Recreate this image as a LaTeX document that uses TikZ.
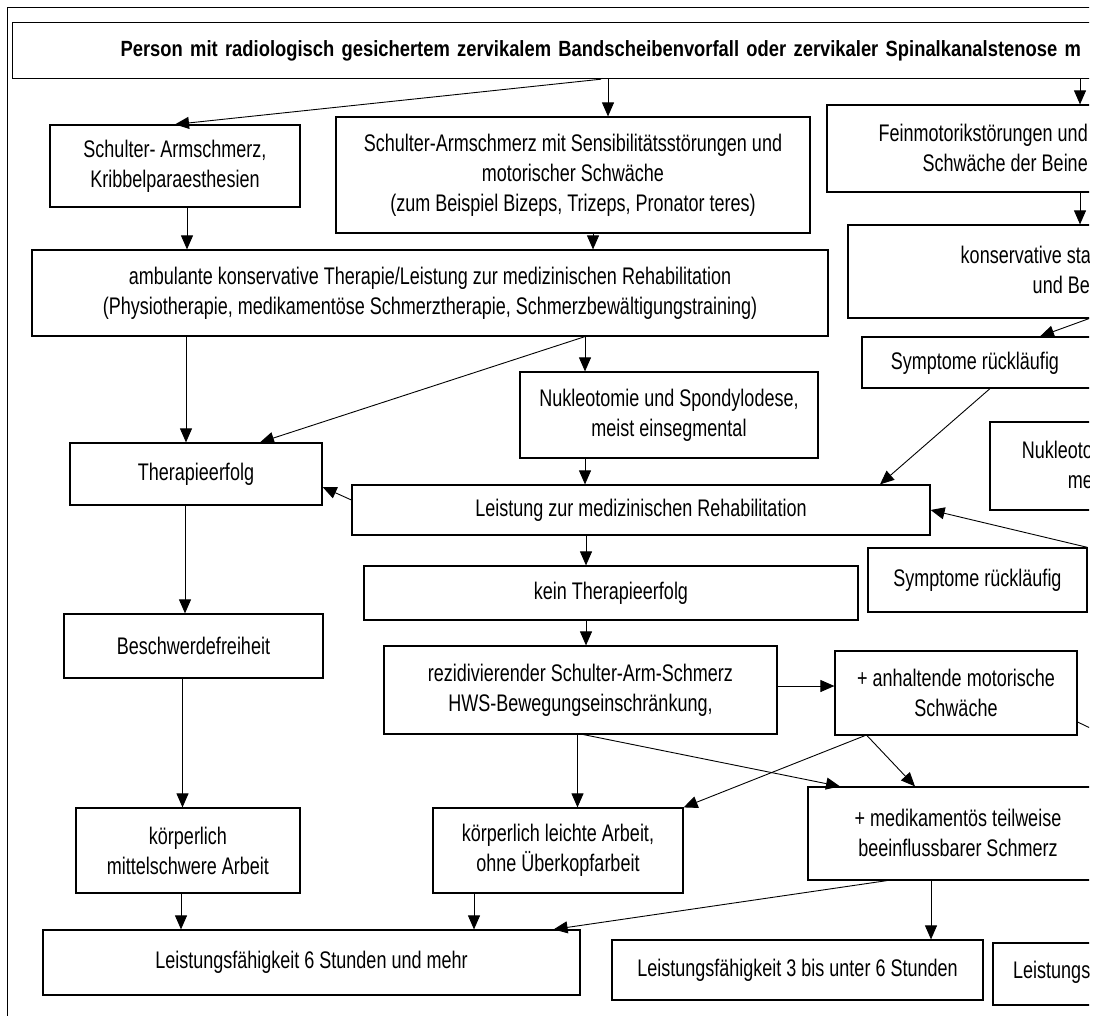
\documentclass[tikz,border=0pt]{standalone}
\usepackage{fontspec}
\setmainfont{Liberation Sans}[FakeStretch=0.75]
\newfontfamily\headfam{Liberation Sans}[FakeStretch=0.835]
\usetikzlibrary{arrows.meta}

\tikzset{
  box/.style={draw, line width=1.2pt, inner sep=0pt, align=center, font={\fontsize{24}{30}\selectfont}},
  txt/.style={inner sep=0pt, font={\fontsize{24}{30}\selectfont}},
  arr/.style={-{Triangle[length=14pt,width=12pt]}, line width=0.9pt},
}

\begin{document}
\begin{tikzpicture}[x=1pt,y=-1pt]
\useasboundingbox (0,0) rectangle (1098,1016);
\clip (0,0) rectangle (1089,1016);
\draw[line width=1pt] (7,8) rectangle (1200,1100);

\node[box, anchor=north west, minimum height=56pt, text width=1100pt, inner xsep=108pt, align=left, font={\headfam\bfseries\fontsize{22}{26}\selectfont}] (title) at (12,22) {Person mit radiologisch gesichertem zervikalem Bandscheibenvorfall oder zervikaler Spinalkanalstenose m};

\node[box, minimum width=250pt, minimum height=82pt] (schulter) at (175,166) {Schulter- Armschmerz,\\Kribbelparaesthesien};
\node[box, minimum width=474pt, minimum height=116pt] (sensib) at (573,175) {Schulter-Armschmerz mit Sensibilitätsstörungen und\\motorischer Schwäche\\(zum Beispiel Bizeps, Trizeps, Pronator teres)};
\node[box, minimum width=303pt, minimum height=87pt] (fein) at (978.5,148.5) {};
\node[txt, anchor=east, align=right] (feintext) at (1088,148) {Feinmotorikstörungen und\\Schwäche der Beine};
\node[box, minimum width=282pt, minimum height=93pt] (stat) at (989,271.5) {};
\node[txt, anchor=east, align=right] (stattext) at (1100,270) {konservative stati\\und Beh};
\node[box, minimum width=796pt, minimum height=86pt] (amb) at (430,293) {ambulante konservative Therapie/Leistung zur medizinischen Rehabilitation\\(Physiotherapie, medikamentöse Schmerztherapie, Schmerzbewältigungstraining)};
\node[box, minimum width=268pt, minimum height=51pt] (sym1) at (996,362.5) {};
\node[txt] (sym1text) at (975,363) {Symptome rückläufig};
\node[box, minimum width=298pt, minimum height=86pt] (nukl) at (669,415) {Nukleotomie und Spondylodese,\\meist einsegmental};
\node[box, minimum width=252pt, minimum height=62pt] (erfolg) at (196,474) {Therapieerfolg};
\node[box, minimum width=140pt, minimum height=88pt] (nukr) at (1060,466) {};
\node[txt, anchor=east, align=right] (nukrtext) at (1093,465) {Nukleoto\\me};
\node[box, minimum width=578pt, minimum height=50pt] (reha) at (641,510) {Leistung zur medizinischen Rehabilitation};
\node[box, minimum width=219pt, minimum height=64pt] (sym2) at (977.5,580) {Symptome rückläufig};
\node[box, minimum width=494pt, minimum height=54pt] (kein) at (611,593) {kein Therapieerfolg};
\node[box, minimum width=259pt, minimum height=64pt] (beschw) at (193.5,646) {Beschwerdefreiheit};
\node[box, minimum width=393pt, minimum height=88pt] (rezid) at (580.5,690) {rezidivierender Schulter-Arm-Schmerz\\HWS-Bewegungseinschränkung,};
\node[box, minimum width=242pt, minimum height=84pt] (anh) at (956,693) {+ anhaltende motorische\\Schwäche};
\node[box, minimum width=224pt, minimum height=85pt] (mittel) at (188,850.5) {körperlich\\mittelschwere Arbeit};
\node[box, minimum width=250pt, minimum height=85pt] (leicht) at (558,850.5) {körperlich leichte Arbeit,\\ohne Überkopfarbeit};
\node[box, minimum width=322pt, minimum height=93pt] (medi) at (969,833.5) {};
\node[txt, align=center] (meditext) at (958,833) {+ medikamentös teilweise\\beeinflussbarer Schmerz};
\node[box, minimum width=537pt, minimum height=65pt] (l6) at (311.5,962.5) {Leistungsfähigkeit 6 Stunden und mehr};
\node[box, minimum width=371pt, minimum height=60pt] (l3) at (797.5,970) {Leistungsfähigkeit 3 bis unter 6 Stunden};
\node[box, minimum width=137pt, minimum height=62pt] (lr) at (1061.5,974) {};
\node[txt, anchor=west] (lrtext) at (1013,972) {Leistungs};
\coordinate (offr) at (1140,752);

\draw[arr] ([xshift=28pt]sensib.north |- title.south) -- (schulter.north);
\draw[arr] ([xshift=35pt]sensib.north |- title.south) -- ([xshift=35pt]sensib.north);
\draw[arr] ([xshift=101.5pt]fein.north |- title.south) -- ([xshift=101.5pt]fein.north);
\draw[arr] ([xshift=101.5pt]fein.south) -- ([xshift=101.5pt]fein.south |- stat.north);
\draw[arr] ([xshift=12pt]schulter.south) -- ([xshift=12pt]schulter.south |- amb.north);
\draw[arr] ([xshift=20pt]sensib.south) -- ([xshift=20pt]sensib.south |- amb.north);
\draw[arr] ([xshift=100pt]stat.south) -- ([xshift=44pt]sym1.north);
\draw[arr] ([xshift=-10pt]erfolg.north |- amb.south) -- ([xshift=-10pt]erfolg.north);
\draw[arr] ([xshift=-84pt]nukl.north |- amb.south) -- ([xshift=-84pt]nukl.north);
\draw[arr] ([xshift=-84pt]nukl.north |- amb.south) -- ([xshift=64pt]erfolg.north);
\draw[arr] ([xshift=-84pt]nukl.south) -- ([xshift=-84pt]nukl.south |- reha.north);
\draw[arr] ([xshift=-6pt]sym1.south) -- ([xshift=239pt]reha.north);
\draw[arr] ([yshift=10pt]reha.west) -- ([yshift=-13pt]erfolg.east);
\draw[arr] (sym2.north east) -- (reha.east);
\draw[arr] ([xshift=-55pt]reha.south) -- ([xshift=-55pt]reha.south |- kein.north);
\draw[arr] ([xshift=-25pt]kein.south) -- ([xshift=-25pt]kein.south |- rezid.north);
\draw[arr] ([xshift=-11pt]erfolg.south) -- ([xshift=-11pt]erfolg.south |- beschw.north);
\draw[arr] ([xshift=-11pt]beschw.south) -- ([xshift=-11pt]beschw.south |- mittel.north);
\draw[arr] ([xshift=-7pt]mittel.south) -- ([xshift=-7pt]mittel.south |- l6.north);
\draw[arr] ([xshift=-84pt]leicht.south) -- ([xshift=-84pt]leicht.south |- l6.north);
\draw[arr] ([xshift=-3pt]rezid.south) -- ([xshift=-3pt]rezid.south |- leicht.north);
\draw[arr] ([xshift=3pt]rezid.south) -- ([xshift=-129pt]medi.north);
\draw[arr] ([yshift=4pt]rezid.east) -- ([yshift=4pt]rezid.east -| anh.west);
\draw[arr] ([xshift=-91pt]anh.south) -- (leicht.north east);
\draw[arr] ([xshift=-89pt]anh.south) -- ([xshift=-54pt]medi.north);
\draw[arr] ([xshift=-38pt]medi.south) -- ([xshift=-38pt]medi.south |- l3.north);
\draw[arr] ([xshift=-82pt]medi.south) -- ([xshift=-27pt]l6.north east);
\draw[arr] ([yshift=-29pt]anh.east) -- (offr);
\end{tikzpicture}
\end{document}
